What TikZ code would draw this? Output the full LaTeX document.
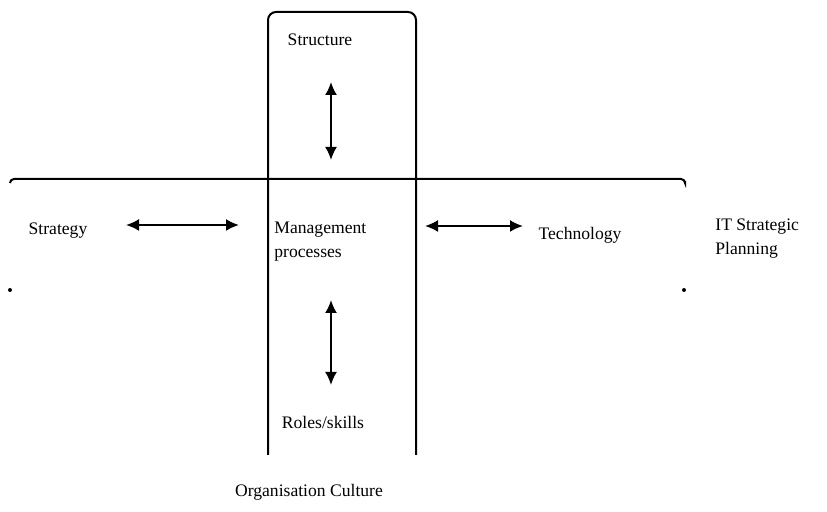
\documentclass[tikz,border=0pt]{standalone}
\usepackage{fontspec}
\setmainfont{Liberation Serif}
\usepackage{tikz}
\usetikzlibrary{
	arrows.meta,
	positioning
}

\begin{document}
\begin{tikzpicture}[
        x=0.5pt, y=-0.5pt,
        font=\fontsize{8.8}{12}\selectfont,
        % text labels
        lbl/.style={inner sep=1pt, align=left},
        % frame lines
        frame/.style={line width=1pt, black},
        % double headed arrows
        link/.style={{Latex[length=6.5pt,width=6pt]}-{Latex[length=6.5pt,width=6pt]}, line width=1pt}
    ]

        \useasboundingbox (0,0) rectangle (827,512);

        % ====================
        % Frame (the cross)
        % ====================
        \draw[frame, rounded corners=4pt] (268,455) -- (268,12) -- (416,12) -- (416,455);
        \draw[frame, rounded corners=2pt] (10,183) -- (10,179) -- (685,179) -- (685,181);
        \fill (10,290) circle (1pt);
        \fill (684,290) circle (1pt);

        % ====================
        % Labels
        % ====================
        \node[lbl] (struct) at (320,40) {Structure};
        \node[lbl] (strat) at (58,231) {Strategy};
        \node[lbl, anchor=west] (mgmt) at (272,242) {Management\\processes};
        \node[lbl] (tech) at (580,235) {Technology};
        \node[lbl, anchor=west] (itsp) at (713,239) {IT Strategic\\Planning};
        \node[lbl] (roles) at (323,422) {Roles/skills};
        \node[lbl] (culture) at (309,492) {Organisation Culture};

        % ====================
        % Arrows
        % ====================
        \coordinate (up_a) at (331,82);
        \coordinate (up_b) at (331,160);
        \coordinate (dn_a) at (331,300);
        \coordinate (dn_b) at (331,385);
        \coordinate (lf_a) at (126,225);
        \coordinate (lf_b) at (239,225);
        \coordinate (rt_a) at (425,226);
        \coordinate (rt_b) at (523,226);

        \draw[link] (up_a) -- (up_b);
        \draw[link] (dn_a) -- (dn_b);
        \draw[link] (lf_a) -- (lf_b);
        \draw[link] (rt_a) -- (rt_b);

    \end{tikzpicture}
\end{document}
